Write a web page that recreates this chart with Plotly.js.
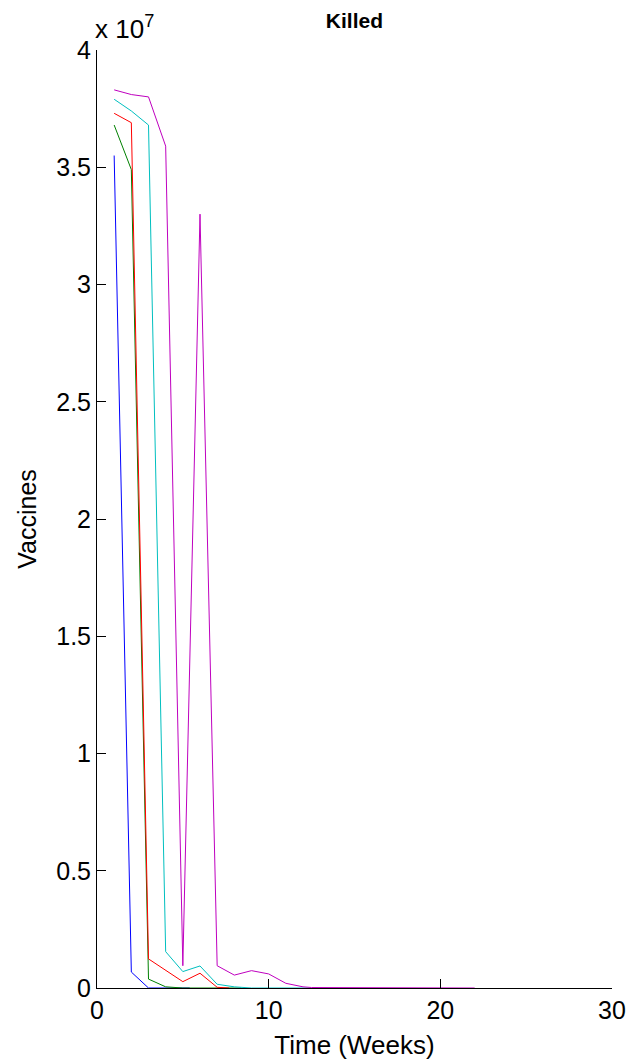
<!DOCTYPE html>
<html>
<head>
<meta charset="utf-8">
<script src="https://cdn.plot.ly/plotly-3.0.1.min.js"></script>
<style>html,body{margin:0;padding:0;background:#fff;}#chart{width:629px;height:1064px;}</style>
</head>
<body>
<div id="chart"></div>
<script>
// Data (time in weeks, vaccines killed)
const blueT = [1, 2, 3, 4, 5, 5.4];
const blueV = [3.55e7, 0.068e7, 0, 0, 0, 0];

const greenT = [1, 2, 3, 4, 5, 6, 7, 8, 8.4];
const greenV = [3.68e7, 3.49e7, 0.038e7, 0.005e7, 0, 0, 0, 0, 0];

const redT = [1, 2, 3, 4, 5, 6, 7, 7.7];
const redV = [3.73e7, 3.69e7, 0.124e7, 0.075e7, 0.027e7, 0.063e7, 0.003e7, 0];

const cyanT = [1, 2, 3, 4, 5, 6, 7, 8, 9, 10, 11, 12, 12.4];
const cyanV = [3.79e7, 3.74e7, 3.68e7, 0.155e7, 0.07e7, 0.094e7, 0.016e7, 0.005e7, 0, 0, 0, 0, 0];

const magT = [1, 2, 3, 4, 5, 6, 7, 8, 9, 10, 11, 12, 12.5, 22];
const magV = [3.83e7, 3.81e7, 3.80e7, 3.59e7, 0.095e7, 3.30e7, 0.095e7, 0.055e7, 0.074e7, 0.06e7, 0.02e7, 0.005e7, 0.002e7, 0];

const yTickVals = [0, 0.5e7, 1e7, 1.5e7, 2e7, 2.5e7, 3e7, 3.5e7, 4e7];
const yTickText = ["0", "0.5", "1", "1.5", "2", "2.5", "3", "3.5", "4"];
const xTickVals = [0, 10, 20, 30];

const series = [
  {x: blueT, y: blueV, c: "#0000FF"},
  {x: greenT, y: greenV, c: "#008000"},
  {x: redT, y: redV, c: "#FF0000"},
  {x: cyanT, y: cyanV, c: "#00BFBF"},
  {x: magT, y: magV, c: "#BF00BF"}
];

const traces = series.map(s => ({
  x: s.x, y: s.y, type: "scatter", mode: "lines",
  line: {color: s.c, width: 1}, showlegend: false, hoverinfo: "skip"
}));

const font = {family: "Liberation Sans, Arial, sans-serif", color: "#000"};

const layout = {
  width: 629, height: 1064,
  margin: {l: 97, r: 17, t: 50, b: 76},
  paper_bgcolor: "#fff", plot_bgcolor: "#fff",
  showlegend: false,
  title: {text: "<b>Killed</b>", font: Object.assign({size: 21}, font), x: 0.5635, xanchor: "center", y: 0.981, yanchor: "middle"},
  xaxis: {
    range: [0, 30], tickvals: xTickVals, ticktext: xTickVals.map(String),
    showline: true, linecolor: "#000", linewidth: 1, mirror: false,
    ticks: "inside", ticklen: 9, tickcolor: "#000", tickwidth: 1,
    showgrid: false, zeroline: false,
    tickfont: Object.assign({size: 25}, font),
    title: {text: "Time (Weeks)", font: Object.assign({size: 26}, font), standoff: 12}
  },
  yaxis: {
    range: [0, 4e7], tickvals: yTickVals, ticktext: yTickText,
    showline: true, linecolor: "#000", linewidth: 1, mirror: false,
    ticks: "inside", ticklen: 9, tickcolor: "#000", tickwidth: 1,
    showgrid: false, zeroline: false,
    tickfont: Object.assign({size: 25}, font),
    title: {text: "Vaccines", font: Object.assign({size: 25}, font), standoff: 12}
  },
  annotations: [{
    text: "x 10<sup>7</sup>", xref: "paper", yref: "paper", x: 0, y: 1,
    xanchor: "left", yanchor: "bottom", showarrow: false, xshift: -4, yshift: 4,
    font: Object.assign({size: 26}, font)
  }]
};

Plotly.newPlot("chart", traces, layout, {staticPlot: true, displayModeBar: false});
</script>
</body>
</html>
